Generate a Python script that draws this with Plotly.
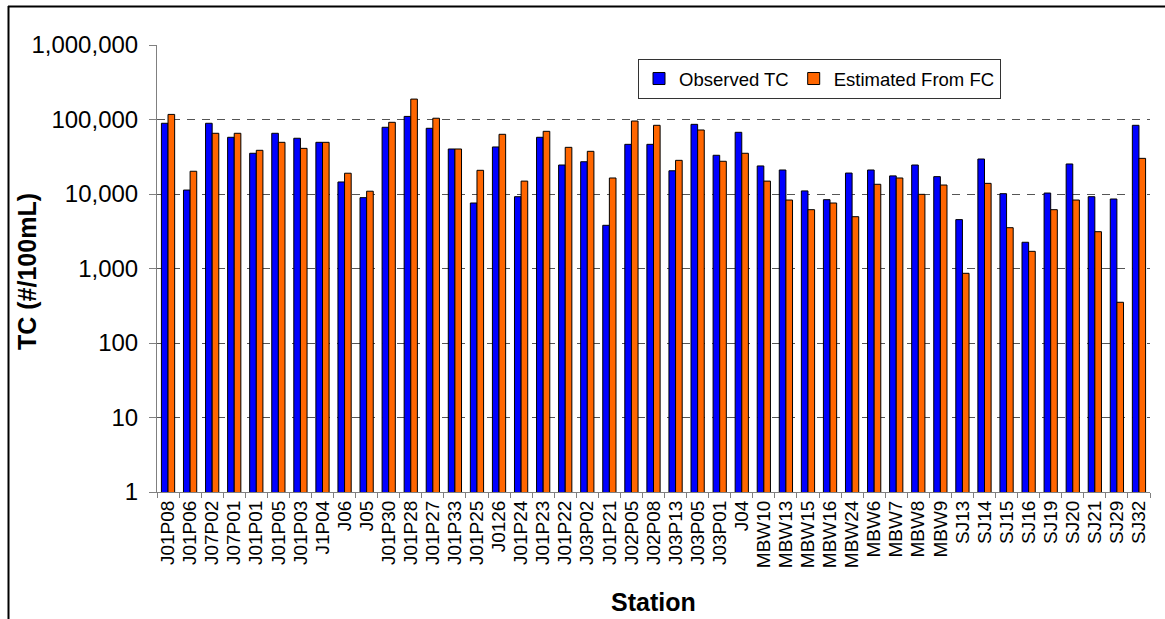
import plotly.graph_objects as go

stations = ["J01P08", "J01P06", "J07P02", "J07P01", "J01P01", "J01P05", "J01P03", "J1P04",
            "J06", "J05", "J01P30", "J01P28", "J01P27", "J01P33", "J01P25", "J0126",
            "J01P24", "J01P23", "J01P22", "J03P02", "J01P21", "J02P05", "J02P08", "J03P13",
            "J03P05", "J03P01", "J04", "MBW10", "MBW13", "MBW15", "MBW16", "MBW24",
            "MBW6", "MBW7", "MBW8", "MBW9", "SJ13", "SJ14", "SJ15", "SJ16",
            "SJ19", "SJ20", "SJ21", "SJ29", "SJ32"]

observed_tc = [89000, 11300, 89000, 57700, 35200, 65300, 56000, 49400,
               14500, 8930, 78600, 110000, 76200, 40200, 7570, 42800,
               9200, 57700, 24500, 27100, 3800, 46400, 46400, 20500,
               86100, 33100, 67300, 23800, 21000, 11000, 8390, 19100,
               21000, 17500, 24500, 17100, 4530, 29500, 10100, 2250,
               10300, 25300, 9200, 8570, 83600]

estimated_fc = [117000, 20200, 65300, 65300, 38600, 49400, 41000, 49400,
                19000, 10900, 91700, 188000, 104000, 40200, 20800, 63300,
                14900, 69400, 42300, 37400, 16400, 95400, 83600, 28300,
                72300, 27500, 35200, 14900, 8300, 6160, 7570, 4960,
                13500, 16400, 9900, 13200, 862, 13900, 3530, 1700,
                6160, 8300, 3120, 352, 30100]

y_tickvals = [1, 10, 100, 1000, 10000, 100000, 1000000]
y_ticktext = ["1", "10", "100", "1,000", "10,000", "100,000", "1,000,000"]

FONT = "Liberation Sans, Arial, sans-serif"

W, H = 1165, 619
PL, PR, PT, PB = 157, 1150, 45, 492  # plot area in screen pixels
L, R, T, B = PL, W - PR, PT, H - PB
pw, ph = W - L - R, H - T - B


def px_x(p):
    return (p - PL) / pw


def px_y(p):
    return (PB - p) / ph


fig = go.Figure()
fig.add_trace(go.Bar(x=stations, y=observed_tc, name="Observed TC",
                     marker=dict(color="#0000FF", line=dict(color="#000000", width=1))))
fig.add_trace(go.Bar(x=stations, y=estimated_fc, name="Estimated From FC",
                     marker=dict(color="#FF6600", line=dict(color="#000000", width=1))))

fig.update_layout(
    width=W, height=H, autosize=False,
    margin=dict(l=L, r=R, t=T, b=B, pad=0),
    paper_bgcolor="white", plot_bgcolor="white",
    barmode="group", bargap=0.4, bargroupgap=0,
    font=dict(family=FONT, color="black"),
    showlegend=True,
    legend=dict(orientation="h", x=px_x(638), y=px_y(59), xanchor="left", yanchor="top",
                bgcolor="white", bordercolor="#333333", borderwidth=1,
                font=dict(size=18.5, family=FONT, color="black"),
                itemwidth=30, traceorder="normal"),
    xaxis=dict(type="category", tickangle=-90, tickfont=dict(size=19),
               tickmode="array", tickvals=stations, ticktext=stations,
               showline=True, linecolor="#808080", linewidth=1,
               ticks="outside", tickson="boundaries", ticklen=5, tickcolor="#808080",
               showgrid=False, zeroline=False),
    yaxis=dict(type="log", range=[0, 6], tickvals=y_tickvals, ticktext=y_ticktext,
               tickfont=dict(size=24), showline=True, linecolor="#808080", linewidth=1,
               ticks="outside", ticklen=7, tickcolor="#808080",
               showgrid=True, gridcolor="#555555", griddash="8px,7px", gridwidth=1,
               zeroline=False, ticklabelstandoff=6),
    annotations=[
        dict(text="<b>TC (#/100mL)</b>", textangle=-90, xref="paper", yref="paper",
             x=px_x(27), y=px_y(272), xanchor="center", yanchor="middle",
             showarrow=False, font=dict(size=25, family=FONT, color="black")),
        dict(text="<b>Station</b>", xref="paper", yref="paper",
             x=px_x(653), y=px_y(602), xanchor="center", yanchor="middle",
             showarrow=False, font=dict(size=25, family=FONT, color="black")),
    ],
    shapes=[
        dict(type="line", xref="paper", yref="paper", x0=px_x(8), x1=px_x(1170),
             y0=px_y(6.5), y1=px_y(6.5), line=dict(color="black", width=2)),
        dict(type="line", xref="paper", yref="paper", x0=px_x(8.5), x1=px_x(8.5),
             y0=px_y(6), y1=px_y(625), line=dict(color="black", width=2)),
    ],
)

fig.write_html("out.html",
               config={"displayModeBar": False},
               post_script="document.body.style.margin='0px';"
                           "document.body.style.overflow='hidden';")
